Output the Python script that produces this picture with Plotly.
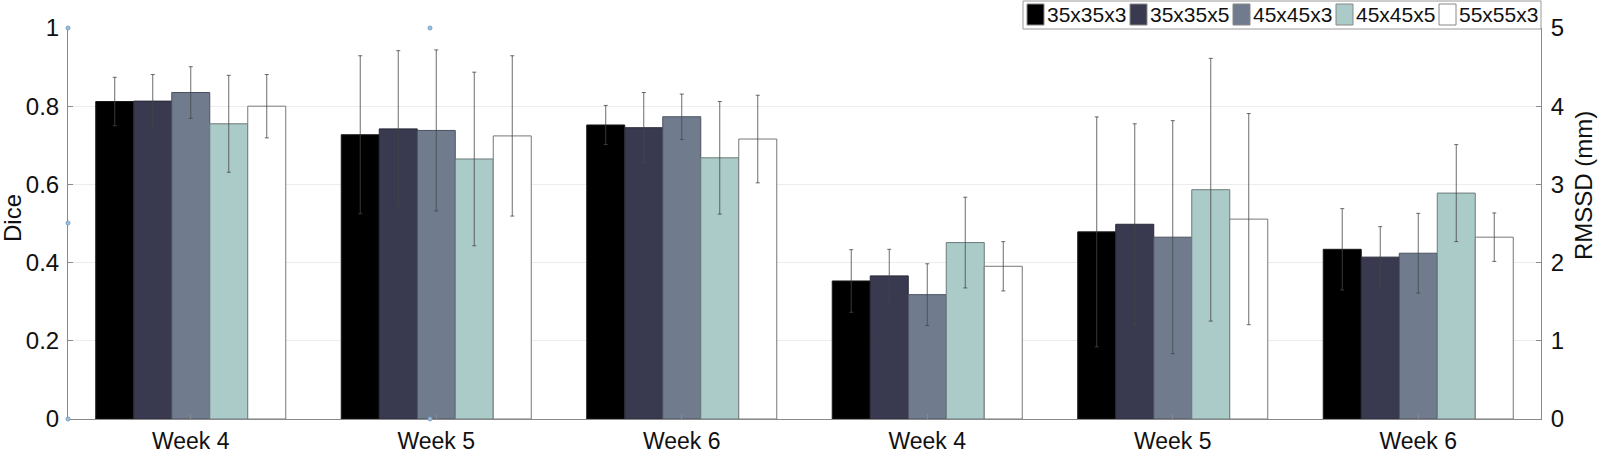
import plotly.graph_objects as go

# ---------------- data ----------------
series = ["35x35x3", "35x35x5", "45x45x3", "45x45x5", "55x55x3"]
colors = ["#000000", "#393950", "#707c8e", "#abcbc9", "#ffffff"]
line_colors = ["#1a1a1a", "#2a2a3a", "#4a5260", "#6a7a7a", "#777777"]

dice_x = [1, 2, 3]
rmssd_x = [4, 5, 6]
tick_vals = [1, 2, 3, 4, 5, 6]
tick_text = ["Week 4", "Week 5", "Week 6", "Week 4", "Week 5", "Week 6"]

dice_mean = [
    [0.812, 0.727, 0.752],
    [0.813, 0.742, 0.745],
    [0.835, 0.738, 0.773],
    [0.755, 0.665, 0.668],
    [0.800, 0.724, 0.716],
]
dice_sd = [
    [0.062, 0.202, 0.050],
    [0.068, 0.200, 0.090],
    [0.066, 0.206, 0.058],
    [0.124, 0.222, 0.144],
    [0.081, 0.205, 0.112],
]
rmssd_mean = [
    [1.765, 2.393, 2.170],
    [1.830, 2.490, 2.070],
    [1.590, 2.325, 2.120],
    [2.256, 2.932, 2.889],
    [1.953, 2.556, 2.325],
]
rmssd_sd = [
    [0.400, 1.470, 0.520],
    [0.340, 1.285, 0.390],
    [0.395, 1.490, 0.510],
    [0.580, 1.680, 0.620],
    [0.315, 1.350, 0.310],
]

# ---------------- geometry ----------------
W, H = 1600, 456
L, R, T, B = 68, 1541, 28, 419  # plot area in pixels
FONT = "Liberation Sans, Arial, Helvetica, sans-serif"
AX = "#8a8a8a"
ERR = "rgba(70,70,70,0.8)"


def px(xp):
    return (xp - L) / (R - L)


def py(yp):
    return (B - yp) / (B - T)


fig = go.Figure()
for i, name in enumerate(series):
    common = dict(
        marker=dict(color=colors[i], line=dict(color=line_colors[i], width=1)),
        offsetgroup=str(i),
        showlegend=False,
        name=name,
    )
    fig.add_trace(go.Bar(
        x=dice_x, y=dice_mean[i], yaxis="y",
        error_y=dict(type="data", array=dice_sd[i], color=ERR, thickness=1, width=2),
        **common))
    fig.add_trace(go.Bar(
        x=rmssd_x, y=rmssd_mean[i], yaxis="y2",
        error_y=dict(type="data", array=rmssd_sd[i], color=ERR, thickness=1, width=2),
        **common))

shapes = []
annotations = []

# custom legend (box + swatches + labels)
lg_x0, lg_x1, lg_y0, lg_y1 = 1023, 1541, 1, 29
shapes.append(dict(type="rect", xref="paper", yref="paper",
                   x0=px(lg_x0), x1=px(lg_x1), y0=py(lg_y1), y1=py(lg_y0),
                   line=dict(color="#9a9a9a", width=1), fillcolor="white", layer="above"))
step = 103
for i, name in enumerate(series):
    sx = 1027 + i * step
    shapes.append(dict(type="rect", xref="paper", yref="paper",
                       x0=px(sx), x1=px(sx + 17), y0=py(25), y1=py(4),
                       line=dict(color="#888888", width=1), fillcolor=colors[i], layer="above"))
    annotations.append(dict(xref="paper", yref="paper", x=px(sx + 18), y=py(15),
                            text=name, showarrow=False, xanchor="left", yanchor="middle",
                            font=dict(family=FONT, size=21, color="#111111")))

# axis titles
annotations.append(dict(xref="paper", yref="paper", x=px(12), y=py(218), text="Dice",
                        showarrow=False, textangle=-90, xanchor="center", yanchor="middle",
                        font=dict(family=FONT, size=24, color="#111111")))
annotations.append(dict(xref="paper", yref="paper", x=px(1584), y=py(186), text="RMSSD (mm)",
                        showarrow=False, textangle=-90, xanchor="center", yanchor="middle",
                        font=dict(family=FONT, size=24, color="#111111")))

# small selection-handle dots seen in the reference
for (hx, hy) in [(68, 28), (68, 223), (68, 419), (430, 28), (430, 419)]:
    shapes.append(dict(type="circle", xref="paper", yref="paper",
                       x0=px(hx - 2), x1=px(hx + 2), y0=py(hy + 2), y1=py(hy - 2),
                       line=dict(color="#7aa3c8", width=1), fillcolor="#9cc0dc", layer="above"))

tickfont = dict(family=FONT, size=24, color="#111111")
fig.update_layout(
    width=W, height=H,
    margin=dict(l=L, r=W - R, t=T, b=H - B, pad=0, autoexpand=False),
    paper_bgcolor="white", plot_bgcolor="white",
    barmode="group", bargap=0.226, bargroupgap=0,
    showlegend=False,
    shapes=shapes, annotations=annotations,
    xaxis=dict(range=[0.5, 6.5], tickmode="array", tickvals=tick_vals, ticktext=tick_text,
               ticks="inside", ticklen=5, tickcolor=AX, showline=True, linecolor=AX, linewidth=1,
               showgrid=False, zeroline=False, tickfont=dict(family=FONT, size=23, color="#111111"),
               ticklabelstandoff=1, automargin=False),
    yaxis=dict(range=[0, 1], tickmode="array", tickvals=[0, 0.2, 0.4, 0.6, 0.8, 1],
               ticktext=["0", "0.2", "0.4", "0.6", "0.8", "1"],
               ticks="inside", ticklen=5, tickcolor=AX, showline=True, linecolor=AX, linewidth=1,
               showgrid=True, gridcolor="#ececec", gridwidth=1, zeroline=False,
               tickfont=tickfont, ticklabelstandoff=3, automargin=False),
    yaxis2=dict(range=[0, 5], overlaying="y", side="right", tickmode="array",
                tickvals=[0, 1, 2, 3, 4, 5], ticktext=["0", "1", "2", "3", "4", "5"],
                ticks="inside", ticklen=5, tickcolor=AX, showline=True, linecolor=AX, linewidth=1,
                showgrid=False, zeroline=False, tickfont=tickfont, ticklabelstandoff=4,
                automargin=False),
)

# remove the browser's default 8px page margin so the figure fills the window exactly
fig.write_html("out.html", config={"displayModeBar": False},
               post_script="document.body.style.margin='0px';")
